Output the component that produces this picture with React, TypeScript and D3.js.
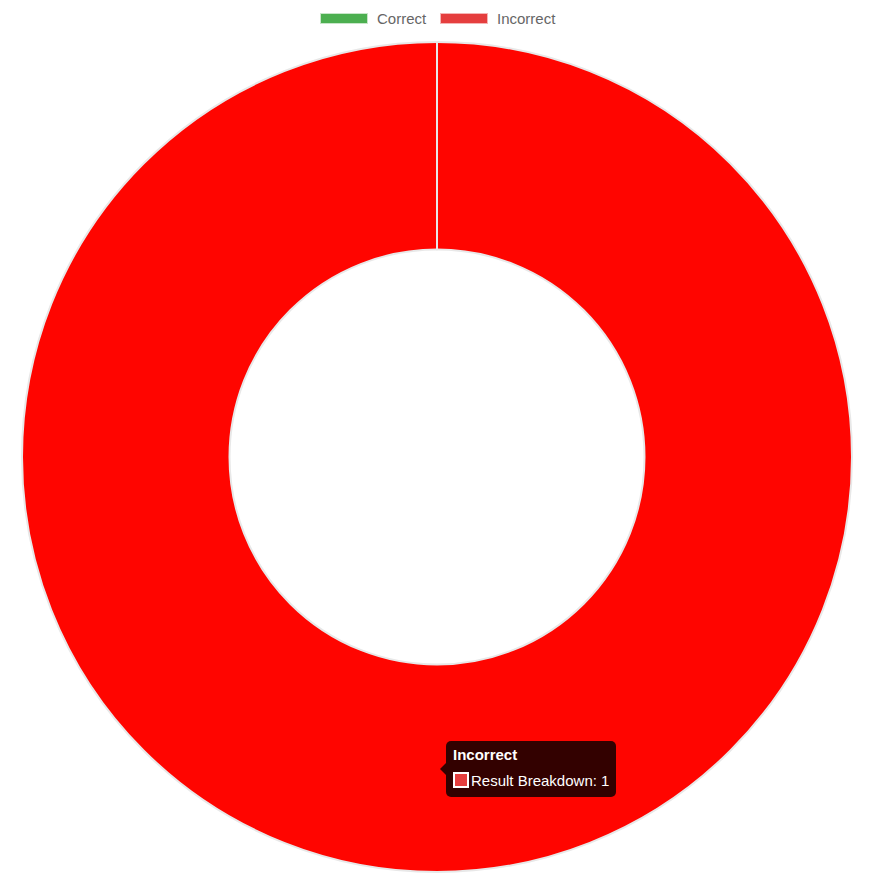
import React, { useRef, useEffect } from "react";
import * as d3 from "d3";

const labels = ["Correct", "Incorrect"];
const values = [0, 1];
const legendColors = ["#4caf50", "#e53e3e"];
const legendBorders = ["#c8e6c9", "#f5b5b5"];
const datasetLabel = "Result Breakdown";
const hovered = 1;

export default function App() {
  const ref = useRef<SVGSVGElement | null>(null);

  useEffect(() => {
    if (!ref.current) return;
    const svg = d3.select(ref.current);
    svg.selectAll("*").remove();

    const width = 873;
    const height = 873;
    const cx = 437;
    const cy = 457;
    const outer = 415;
    const inner = outer * 0.5;
    const font = "'Liberation Sans', Arial, Helvetica, sans-serif";

    svg.attr("width", width).attr("height", height);

    // legend
    const legend = svg.append("g").attr("transform", "translate(320,13)");
    const itemX = [0, 120];
    labels.forEach((l, i) => {
      const g = legend.append("g").attr("transform", `translate(${itemX[i]},0)`);
      g.append("rect")
        .attr("x", 0.5)
        .attr("y", 0.5)
        .attr("width", 47)
        .attr("height", 10)
        .attr("fill", legendColors[i])
        .attr("stroke", legendBorders[i])
        .attr("stroke-width", 1);
      g.append("text")
        .attr("x", 57)
        .attr("y", 7)
        .attr("dominant-baseline", "middle")
        .style("font-family", font)
        .style("font-size", "15px")
        .attr("fill", "#666")
        .text(l);
    });

    // doughnut (drawn last-first so the zero slice border sits on top)
    const pie = d3.pie<number>().sort(null).value((d) => d);
    const arcs = pie(values);
    const arc = d3.arc<d3.PieArcDatum<number>>().innerRadius(inner).outerRadius(outer);

    const g = svg.append("g").attr("transform", `translate(${cx},${cy})`);
    g.selectAll("path.slice")
      .data(arcs.slice().reverse())
      .enter()
      .append("path")
      .attr("class", "slice")
      .attr("d", arc)
      .attr("fill", (d) => (d.index === hovered ? "#ff0500" : legendColors[d.index]))
      .attr("stroke", "#e8e8e8")
      .attr("stroke-width", 2)
      .attr("stroke-linejoin", "round");

    // tooltip
    const tx = 446;
    const ty = 741;
    const tw = 170;
    const th = 56;
    const tip = svg.append("g");
    tip.append("rect")
      .attr("x", tx)
      .attr("y", ty)
      .attr("width", tw)
      .attr("height", th)
      .attr("rx", 5)
      .attr("fill", "rgba(0,0,0,0.8)");
    tip.append("path")
      .attr("d", `M${tx},${ty + th / 2 - 6} L${tx - 6},${ty + th / 2} L${tx},${ty + th / 2 + 6} Z`)
      .attr("fill", "rgba(0,0,0,0.8)");
    tip.append("text")
      .attr("x", tx + 7)
      .attr("y", ty + 19)
      .style("font-family", font)
      .style("font-size", "15px")
      .style("font-weight", "bold")
      .attr("fill", "#fff")
      .text(labels[hovered]);
    tip.append("rect")
      .attr("x", tx + 8)
      .attr("y", ty + 32)
      .attr("width", 14)
      .attr("height", 14)
      .attr("fill", legendColors[hovered])
      .attr("stroke", "#fff")
      .attr("stroke-width", 2);
    tip.append("text")
      .attr("x", tx + 25)
      .attr("y", ty + 45)
      .style("font-family", font)
      .style("font-size", "15px")
      .attr("fill", "#fff")
      .text(`${datasetLabel}: ${values[hovered]}`);
  }, []);

  return (
    <div>
      <svg ref={ref} style={{ display: "block", position: "absolute", left: 0, top: 0 }} />
    </div>
  );
}
